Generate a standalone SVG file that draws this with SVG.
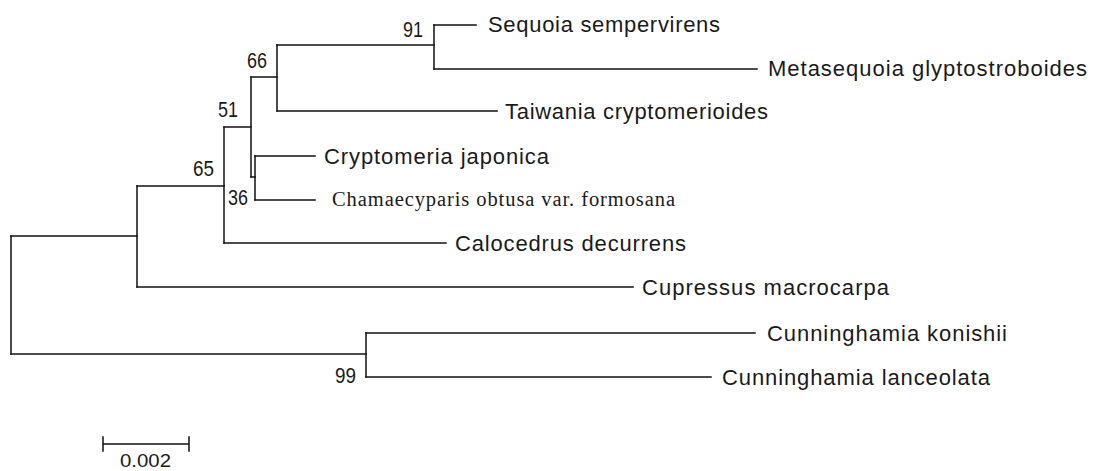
<svg xmlns="http://www.w3.org/2000/svg" width="1093" height="471" viewBox="0 0 1093 471">
  <style>
    .br { fill: none; stroke: #111; stroke-width: 1.5; stroke-linecap: square; }
    .taxon { font-family: "Liberation Sans", Arial, sans-serif; font-size: 22px; fill: #1a1a1a; }
    .taxon-serif { font-family: "Liberation Serif", "Times New Roman", serif; font-size: 20.5px; fill: #1a1a1a; }
    .boot { font-family: "Liberation Sans", Arial, sans-serif; font-size: 22px; fill: #1a1a1a; }
    .scale-label { font-family: "Liberation Sans", Arial, sans-serif; font-size: 19px; fill: #1a1a1a; }
  </style>
  <rect width="1093" height="471" fill="#fff"/>

  <!-- branches of the tree -->
  <g id="branches" class="br">
    <path d="M11,236 V354"/>
    <path d="M11,236 H137"/>
    <path d="M11,354 H366"/>
    <path d="M137,186 V287"/>
    <path d="M137,186 H224"/>
    <path d="M137,287 H633"/>
    <path d="M224,127 V243"/>
    <path d="M224,127 H251"/>
    <path d="M224,243 H446"/>
    <path d="M251,77 V177"/>
    <path d="M251,77 H277"/>
    <path d="M251,177 H255"/>
    <path d="M277,45 V111"/>
    <path d="M277,45 H434"/>
    <path d="M277,111 H497"/>
    <path d="M434,25 V69"/>
    <path d="M434,25 H476"/>
    <path d="M434,69 H757"/>
    <path d="M255,156 V200"/>
    <path d="M255,156 H315"/>
    <path d="M255,200 H315"/>
    <path d="M366,333 V377"/>
    <path d="M366,333 H755"/>
    <path d="M366,377 H711"/>
  </g>

  <!-- terminal taxa -->
  <g id="sequoia"><text class="taxon" x="488" y="32" textLength="232">Sequoia sempervirens</text></g>
  <g id="metasequoia"><text class="taxon" x="768" y="76" textLength="319">Metasequoia glyptostroboides</text></g>
  <g id="taiwania"><text class="taxon" x="505" y="119" textLength="263">Taiwania cryptomerioides</text></g>
  <g id="cryptomeria"><text class="taxon" x="324" y="164" textLength="225">Cryptomeria japonica</text></g>
  <g id="chamaecyparis"><text class="taxon-serif" x="332" y="206" textLength="343">Chamaecyparis obtusa var. formosana</text></g>
  <g id="calocedrus"><text class="taxon" x="455" y="251" textLength="231">Calocedrus decurrens</text></g>
  <g id="cupressus"><text class="taxon" x="642" y="295" textLength="247">Cupressus macrocarpa</text></g>
  <g id="cunninghamia-konishii"><text class="taxon" x="767" y="341" textLength="240">Cunninghamia konishii</text></g>
  <g id="cunninghamia-lanceolata"><text class="taxon" x="722" y="385" textLength="268">Cunninghamia lanceolata</text></g>

  <!-- bootstrap support at internal nodes -->
  <g id="node-91"><text class="boot" x="403" y="36.5" textLength="20" lengthAdjust="spacingAndGlyphs">91</text></g>
  <g id="node-66"><text class="boot" x="247" y="67.5" textLength="20" lengthAdjust="spacingAndGlyphs">66</text></g>
  <g id="node-51"><text class="boot" x="218" y="117" textLength="20" lengthAdjust="spacingAndGlyphs">51</text></g>
  <g id="node-65"><text class="boot" x="193" y="176" textLength="21" lengthAdjust="spacingAndGlyphs">65</text></g>
  <g id="node-36"><text class="boot" x="228" y="205" textLength="20" lengthAdjust="spacingAndGlyphs">36</text></g>
  <g id="node-99"><text class="boot" x="335" y="383" textLength="21" lengthAdjust="spacingAndGlyphs">99</text></g>

  <!-- scale bar -->
  <g id="scale-bar">
    <path class="br" d="M103,444 H189 M103,437 V451 M189,437 V451"/>
    <text class="scale-label" x="120" y="467" textLength="51" lengthAdjust="spacingAndGlyphs">0.002</text>
  </g>
</svg>
